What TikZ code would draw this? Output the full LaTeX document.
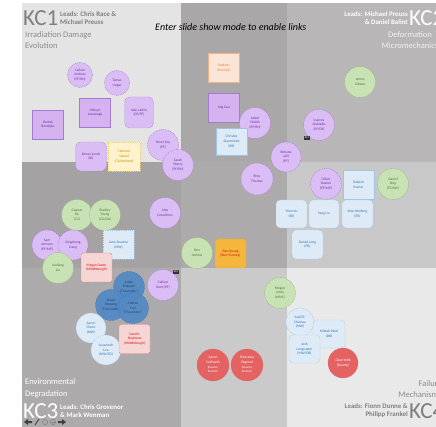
\documentclass[tikz,border=0pt]{standalone}
\usepackage{fontspec}
\setmainfont{Carlito}
\usetikzlibrary{shapes.geometric}
\definecolor{bgA}{HTML}{E4E4E4}
\definecolor{bgB}{HTML}{A9A7A7}
\definecolor{bgC}{HTML}{B8B6B6}
\definecolor{bgD}{HTML}{A4A2A2}
\definecolor{bgE}{HTML}{ACAAAA}
\definecolor{bgF}{HTML}{C8C8C8}
\definecolor{bgG}{HTML}{ACAAAA}
\definecolor{bgH}{HTML}{CACACA}
\definecolor{bgI}{HTML}{E9E9E9}
\definecolor{purpfill}{HTML}{DBBDF5}
\definecolor{purpsq}{HTML}{D5B3F1}
\definecolor{purpline}{HTML}{A67AD2}
\definecolor{purptext}{HTML}{7030A0}
\definecolor{grnfill}{HTML}{C8E2B6}
\definecolor{grnline}{HTML}{8DB86C}
\definecolor{grntext}{HTML}{4E7A31}
\definecolor{bluefill}{HTML}{DEEBF7}
\definecolor{blueline}{HTML}{9DC3E6}
\definecolor{bluetext}{HTML}{2E75B6}
\definecolor{dbfill}{HTML}{5289C6}
\definecolor{dbline}{HTML}{3F6FA8}
\definecolor{dbtext}{HTML}{1F3F66}
\definecolor{pinkfill}{HTML}{F8D5D5}
\definecolor{pinkline}{HTML}{E06666}
\definecolor{redtext}{HTML}{D01010}
\definecolor{redfill}{HTML}{E46262}
\definecolor{orfill}{HTML}{FBE5D6}
\definecolor{orline}{HTML}{F4B183}
\definecolor{ortext}{HTML}{ED7D31}
\definecolor{goldfill}{HTML}{F4B63C}
\definecolor{goldline}{HTML}{D99A20}
\definecolor{yelfill}{HTML}{FFF2CC}
\definecolor{yelline}{HTML}{F2D26B}
\definecolor{yeltext}{HTML}{BF9000}
\definecolor{kcgrey}{HTML}{7F7F7F}
\definecolor{subgrey}{HTML}{8C8C8C}
\tikzset{
  lbl/.style={align=center, font=\fontsize{3.6}{4.7}\selectfont, inner sep=0pt},
  dsh/.style={line width=0.4pt, dash pattern=on 1pt off 0.8pt},
  sol/.style={line width=0.5pt},
  pcirc/.style={lbl, circle, minimum size=31pt, fill=purpfill, draw=purpline, dsh, text=purptext},
  prnd/.style={lbl, rectangle, rounded corners=5pt, fill=purpfill, draw=purpline, dsh, text=purptext},
  psq/.style={lbl, rectangle, fill=purpsq, draw=purpline, sol, text=purptext},
  gcirc/.style={lbl, circle, minimum size=31pt, fill=grnfill, draw=grnline, dsh, text=grntext},
  bsq/.style={lbl, rectangle, fill=bluefill, draw=blueline, sol, text=bluetext},
  brnd/.style={lbl, rectangle, rounded corners=4pt, fill=bluefill, draw=blueline, dsh, text=bluetext},
  bdash/.style={lbl, rectangle, fill=bluefill, draw=blueline, dsh, text=bluetext},
  bcirc/.style={lbl, circle, minimum size=30pt, fill=bluefill, draw=blueline, dsh, text=bluetext},
  dbcirc/.style={lbl, circle, minimum size=31pt, fill=dbfill, draw=dbline, dsh, text=dbtext, opacity=0.92},
  pinkbox/.style={lbl, rectangle, rounded corners=2pt, fill=pinkfill, draw=pinkline, dsh, text=redtext},
  redcirc/.style={lbl, circle, minimum size=32pt, fill=redfill, draw=pinkline, dsh, text=white},
  orbox/.style={lbl, rectangle, fill=orfill, draw=orline, sol, text=ortext},
  goldbox/.style={lbl, rectangle, rounded corners=2pt, fill=goldfill, draw=goldline, dsh, text=redtext},
  yelbox/.style={lbl, rectangle, fill=yelfill, draw=yelline, dsh, text=yeltext},
  wh/.style={minimum width=31pt, minimum height=29pt},
  badge/.style={inner sep=0.6pt, fill=black!80, text=white, font=\fontsize{2.8}{2.8}\selectfont},
  kc/.style={inner sep=0pt, font=\fontsize{23}{23}\selectfont},
  leads/.style={inner sep=0pt, font=\bfseries\fontsize{6.9}{7.8}\selectfont},
  theme/.style={inner sep=0pt, font=\fontsize{8.5}{11.5}\selectfont},
  navicon/.style={fill=black!75, draw=none},
}
\begin{document}
\begin{tikzpicture}[x=1pt,y=-1pt]
\useasboundingbox (0,0) rectangle (436,427);
\fill[white] (0,0) rectangle (436,427);
% slide background: 3x3 grid of grey panels
\fill[bgA] (22,3) rectangle (181,162);
\fill[bgB] (181,3) rectangle (287,162);
\fill[bgC] (287,3) rectangle (436,162);
\fill[bgD] (22,162) rectangle (181,268);
\fill[bgE] (181,162) rectangle (287,268);
\fill[bgF] (287,162) rectangle (436,268);
\fill[bgG] (22,268) rectangle (181,427);
\fill[bgH] (181,268) rectangle (287,427);
\fill[bgI] (287,268) rectangle (436,427);

% corner headings (the slide runs on past the right edge)
\begin{scope}
\clip (22,3) rectangle (436,427);
\node[kc, text=kcgrey, anchor=west] (kc1) at (23,18) {KC1};
\node[leads, text=kcgrey, anchor=west, align=left] (kc1l) at (60,18) {Leads: Chris Race \&\\Michael Preuss};
\node[theme, text=subgrey, anchor=north west, align=left] (kc1t) at (25,31) {Irradiation Damage\\Evolution};

\node[kc, text=white, anchor=west] (kc2) at (409,18) {KC2};
\node[leads, text=white, anchor=east, align=right] (kc2l) at (408,18) {Leads: Michael Preuss\\\& Daniel Balint};
\node[theme, text=white!95!black, anchor=north, align=center] (kc2t) at (410,31) {Deformation\\Micromechanics};

\node[kc, text=white, anchor=west] (kc3) at (23,411) {KC3};
\node[leads, text=white, anchor=west, align=left] (kc3l) at (60,411) {Leads: Chris Grovenor\\\& Mark Wenman};
\node[theme, text=white, anchor=south west, align=left] (kc3t) at (25,398) {Environmental\\Degradation};

\node[kc, text=kcgrey, anchor=west] (kc4) at (409,411) {KC4};
\node[leads, text=kcgrey, anchor=east, align=right] (kc4l) at (408,411) {Leads: Fionn Dunne \&\\Philipp Frankel};
\node[theme, text=subgrey, anchor=south east, align=right] (kc4t) at (442,398) {Failure\\Mechanisms};
\end{scope}

\node[inner sep=0pt, anchor=west, font=\itshape\fontsize{10}{10}\selectfont] (note) at (155,27) {Enter slide show mode to enable links};

% KC1 panel
\node[pcirc, minimum size=25pt] (callumA) at (80,75) {Callum\\Andrew\\(PF/RH)};
\node[pcirc, minimum size=25pt] (tamas) at (117,83) {Tamas\\Ungar};
\node[psq, wh] (melvyn) at (95,112.5) {Melvyn\\Larranaga};
\node[prnd, minimum width=29pt, minimum height=31pt] (jake) at (139,112.5) {Jake Larkin\\(CR/PF)};
\node[psq, wh] (bartek) at (48,124.5) {Bartek\\Barodjan};
\node[prnd, wh] (kieran) at (91,156.5) {Kieran Lynch\\(IR)};
\node[yelbox, minimum width=32pt, minimum height=29pt] (clement) at (124,156.5) {Clement\\Sakael\\(CX/Amberd)};
\node[pcirc] (omer) at (163,145) {Omer Koç\\(PF)};
\node[pcirc] (sarah) at (178,165) {Sarah\\Sherry\\(PF/RH)};

% central column
\node[orbox, wh] (andrew) at (223.5,68) {Andrew\\Warwick};
\node[psq, wh] (jing) at (224,107.5) {Jing Guo};
\node[pcirc] (adeel) at (255,123) {Adeel\\Shaikh\\(PF/RH)};
\node[bsq, minimum width=31pt, minimum height=27pt] (christos) at (231.5,141.5) {Christos\\Skamniotis\\(RR)};
\node[pcirc] (ioannis) at (319,125) {Ioannis\\Alakiadis\\(PF/CR)};
\node[badge] (bdg1) at (307,138) {KC1};
\node[pcirc, minimum size=30pt] (rehana) at (286,157) {Rehana\\Jalil\\(PF)};
\node[pcirc, minimum size=32pt] (rhys) at (257,179) {Rhys\\Thomas};

% KC2 panel
\node[gcirc] (james) at (360,82) {James\\Gibson};
\node[pcirc] (oliver) at (326,184) {Oliver\\Buxton\\(PF/MP)};
\node[bsq, wh] (rakesh) at (358.5,184.5) {Rakesh\\Kumar};
\node[gcirc] (roig) at (393,184) {Daniel\\Roig\\(ET/AW)};
\node[brnd, minimum width=31pt, minimum height=28pt] (yilun) at (291.5,214) {Yilun Xu\\(SR)};
\node[brnd, minimum width=30pt, minimum height=28pt] (yang) at (324,214) {Yang Liu};
\node[brnd, minimum width=31pt, minimum height=28pt] (wan) at (357.5,214) {Wan Weifeng\\(FD)};
\node[brnd, minimum width=31pt, minimum height=29pt] (dlong) at (307.5,244.5) {Daniel Long\\(FD)};

% middle band
\node[gcirc] (guanze) at (77,215) {Guanze\\He\\(CG)};
\node[gcirc] (bradley) at (105,215) {Bradley\\Young\\(CG/DA)};
\node[pcirc, minimum size=30pt] (sam) at (47,245) {Sam\\Armson\\(PF/MP)};
\node[pcirc, minimum size=30pt] (xing) at (73,245) {Xingzhong\\Liang};
\node[bdash, wh] (jana) at (118.5,245) {Jana Smutna\\(MW)};
\node[gcirc] (junliang) at (58,268) {Junliang\\Liu};
\node[pinkbox, wh] (meganO) at (96.5,267.5) {Megan Owen\\(Middleburgh)};
\node[pcirc] (alex) at (165,213) {Alex\\Carruthers};
\node[gcirc] (ben) at (197,253) {Ben\\Jenkins};
\node[goldbox, wh] (siyu) at (230.5,253.5) {Siyu Huang\\(Burr/Carney)};

% KC3 panel
\node[dbcirc] (johan) at (129,287) {Johan\\Eriksson\\(Thavender)};
\node[dbcirc] (david) at (111,305) {David\\Mayweg\\(Thavender)};
\node[dbcirc] (andrea) at (133,308) {Andrea\\Fazi\\(Thavender)};
\node[pcirc] (callumH) at (163,285) {Callum\\Hunt (PF)};
\node[badge] (bdg2) at (176,272) {KC2};
\node[bcirc] (aaronC) at (91,328) {Aaron\\Chote\\(MW)};
\node[bcirc] (susannah) at (106,350) {Susannah\\Lea\\(MW/FD)};
\node[pinkbox, wh] (gareth) at (134.5,339) {Gareth\\Stephens\\(Middleburgh)};

% bottom centre and KC4 panel
\node[redcirc] (aaronCw) at (213,365) {Aaron\\Coldwells\\{\fontsize{3}{4}\selectfont(Duarte/}\\{\fontsize{3}{4}\selectfont Bertsch)}};
\node[redcirc] (francesca) at (247,365) {Francesca\\Pagnoni\\{\fontsize{3}{4}\selectfont(Duarte/}\\{\fontsize{3}{4}\selectfont Bertsch)}};
\node[gcirc] (meganJ) at (280,293) {Megan\\Jones\\(MMC)};
\node[bcirc, minimum size=28pt] (said) at (300,322) {Said El-\\Chamaa\\(MW)};
\node[brnd, minimum width=32pt, minimum height=28pt] (mitesh) at (329,334) {Mitesh Patel\\(DB)};
\node[brnd, minimum width=31pt, minimum height=28pt] (josh) at (304.5,349) {Josh\\Longcaster\\(MW/DB)};
\node[redcirc, minimum size=30pt] (okan) at (343,363) {Okan Yetik\\(Duarte)};

% slide show toolbar
\fill[navicon] (24,422) -- (28,419) -- (28,421) -- (32,421) -- (32,423) -- (28,423) -- (28,425) -- cycle;
\draw[black!75, line width=0.9pt] (35,425) -- (39,419);
\draw[black!50, line width=0.5pt] (45,422) circle (2.6);
\draw[black!50, line width=0.5pt] (53,422) circle (2.6);
\draw[black!50, line width=0.5pt] (51.5,422) -- (54.5,422);
\fill[navicon] (66,422) -- (62,419) -- (62,421) -- (58,421) -- (58,423) -- (62,423) -- (62,425) -- cycle;
\end{tikzpicture}
\end{document}
